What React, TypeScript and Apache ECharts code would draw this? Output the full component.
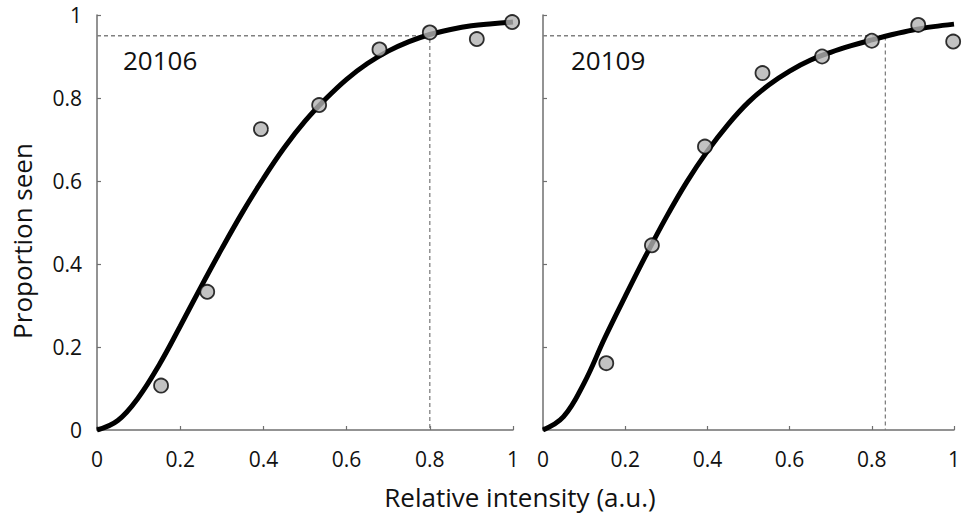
import React, { useEffect, useRef } from "react";
import * as echarts from "echarts";

// Stimulus intensities tested (relative units), shared by both observers
const INTENSITY = [0.154, 0.265, 0.394, 0.534, 0.679, 0.8, 0.913, 0.998];

// Proportion of trials seen at each intensity
const SEEN_20106 = [0.107, 0.333, 0.725, 0.783, 0.917, 0.958, 0.942, 0.983];
const SEEN_20109 = [0.161, 0.445, 0.683, 0.86, 0.9, 0.938, 0.976, 0.936];

// Fitted psychometric curves, sampled along the intensity axis
const CURVE_X = [
  0, 0.05, 0.1, 0.15, 0.2, 0.25, 0.3, 0.35, 0.4, 0.45, 0.5, 0.55, 0.6, 0.65,
  0.7, 0.75, 0.8, 0.85, 0.9, 0.95, 1,
];
const FIT_20106 = [
  0, 0.023, 0.079, 0.158, 0.25, 0.345, 0.437, 0.525, 0.606, 0.68, 0.744,
  0.798, 0.845, 0.883, 0.913, 0.936, 0.953, 0.965, 0.974, 0.979, 0.983,
];
const FIT_20109 = [
  0, 0.032, 0.113, 0.221, 0.322, 0.42, 0.513, 0.598, 0.672, 0.736, 0.79,
  0.832, 0.865, 0.891, 0.91, 0.926, 0.94, 0.953, 0.964, 0.972, 0.978,
];

// 95% criterion and the intensity where each fit reaches it
const CRITERION = 0.95;
const THRESHOLD_20106 = 0.8;
const THRESHOLD_20109 = 0.833;

const PANEL_LABELS = ["20106", "20109"];
const X_TICKS = [0, 0.2, 0.4, 0.6, 0.8, 1];

const FONT = "'Open Sans', 'DejaVu Sans', sans-serif";
const AXIS_GRAY = "#6f6f6f";

export default function App() {
  const ref = useRef<HTMLDivElement>(null);

  useEffect(() => {
    document.body.style.margin = "0";
    if (!ref.current) return;
    const chart = echarts.init(ref.current, undefined, { renderer: "svg" });

    const pair = (xs: number[], ys: number[]) => xs.map((x, i) => [x, ys[i]]);

    const xAxisBase = (gridIndex: number) => ({
      type: "value" as const,
      gridIndex,
      min: X_TICKS[0],
      max: X_TICKS[X_TICKS.length - 1],
      interval: 0.2,
      axisLine: { show: true, lineStyle: { color: AXIS_GRAY, width: 1.5 } },
      axisTick: {
        show: true,
        inside: true,
        length: 4,
        lineStyle: { color: AXIS_GRAY, width: 1.2 },
      },
      splitLine: { show: false },
      axisLabel: {
        color: "#111",
        fontFamily: FONT,
        fontSize: 21,
        margin: 18,
        formatter: (v: number) => String(Math.round(v * 10) / 10),
      },
    });

    const yAxisBase = (gridIndex: number, showLabels: boolean) => ({
      type: "value" as const,
      gridIndex,
      min: 0,
      max: 1,
      interval: 0.2,
      axisLine: { show: true, lineStyle: { color: AXIS_GRAY, width: 1.5 } },
      axisTick: {
        show: true,
        inside: true,
        length: 4,
        lineStyle: { color: AXIS_GRAY, width: 1.2 },
      },
      splitLine: { show: false },
      axisLabel: {
        show: showLabels,
        color: "#111",
        fontFamily: FONT,
        fontSize: 21,
        margin: 15,
        formatter: (v: number) => String(Math.round(v * 10) / 10),
      },
    });

    const dashed = (idx: number, threshold: number) => ({
      type: "line" as const,
      xAxisIndex: idx,
      yAxisIndex: idx,
      data: [
        [0, CRITERION],
        [threshold, CRITERION],
        [threshold, 0],
      ],
      symbol: "none",
      lineStyle: { color: "#808080", width: 1.3, type: [4, 3] as any },
      z: 1,
      silent: true,
    });

    const curve = (idx: number, ys: number[]) => ({
      type: "line" as const,
      xAxisIndex: idx,
      yAxisIndex: idx,
      data: pair(CURVE_X, ys),
      smooth: 0.4,
      symbol: "none",
      lineStyle: { color: "#000", width: 5 },
      z: 2,
      silent: true,
    });

    const points = (idx: number, ys: number[]) => ({
      type: "scatter" as const,
      xAxisIndex: idx,
      yAxisIndex: idx,
      data: pair(INTENSITY, ys),
      symbol: "circle",
      symbolSize: 14,
      itemStyle: { color: "#b3b3b3", borderColor: "#000", borderWidth: 1.8 },
      clip: false,
      z: 3,
    });

    chart.setOption({
      animation: false,
      grid: [
        { left: 97, top: 15, width: 416, height: 415 },
        { left: 543, top: 15, width: 416, height: 415 },
      ],
      xAxis: [xAxisBase(0), xAxisBase(1)],
      yAxis: [yAxisBase(0, true), yAxisBase(1, false)],
      series: [
        dashed(0, THRESHOLD_20106),
        dashed(1, THRESHOLD_20109),
        curve(0, FIT_20106),
        curve(1, FIT_20109),
        points(0, SEEN_20106),
        points(1, SEEN_20109),
      ],
      graphic: [
        {
          type: "text",
          left: 123,
          top: 47,
          style: { text: PANEL_LABELS[0], fontFamily: FONT, fontSize: 26, fill: "#111" },
        },
        {
          type: "text",
          left: 571,
          top: 47,
          style: { text: PANEL_LABELS[1], fontFamily: FONT, fontSize: 26, fill: "#111" },
        },
        {
          type: "text",
          x: 9,
          y: 241,
          rotation: Math.PI / 2,
          style: {
            text: "Proportion seen",
            fontFamily: FONT,
            fontSize: 26,
            fill: "#111",
            align: "center",
            verticalAlign: "top",
          },
        },
        {
          type: "text",
          x: 520,
          y: 497,
          style: {
            text: "Relative intensity (a.u.)",
            fontFamily: FONT,
            fontSize: 26,
            fill: "#111",
            align: "center",
            verticalAlign: "middle",
          },
        },
      ],
    });

    return () => chart.dispose();
  }, []);

  return <div ref={ref} style={{ width: 963, height: 520 }} />;
}
